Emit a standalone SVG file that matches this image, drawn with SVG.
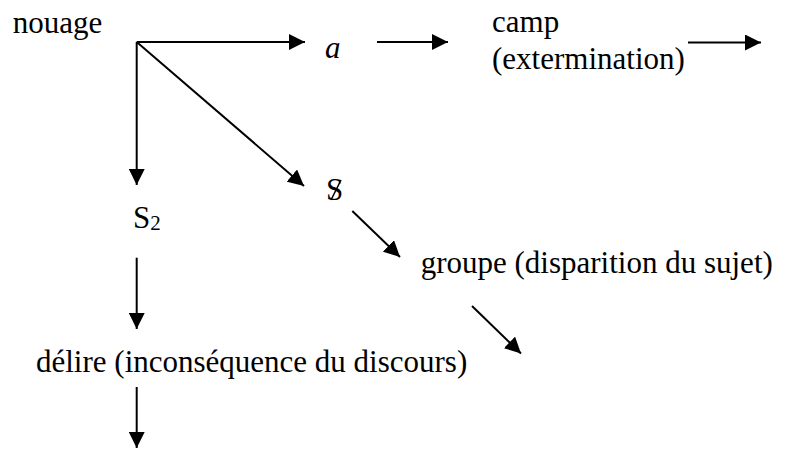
<svg xmlns="http://www.w3.org/2000/svg" width="788" height="449" viewBox="0 0 788 449">
<defs>
<marker id="ah" markerWidth="8" markerHeight="8" refX="8" refY="4" orient="auto" markerUnits="strokeWidth">
<path d="M0,0 L8,4 L0,8 Z" fill="#000"/>
</marker>
</defs>
<rect width="788" height="449" fill="#fff"/>
<g id="connectors" stroke="#000" stroke-width="2" fill="none" marker-end="url(#ah)">
<line x1="136.7" y1="42" x2="305" y2="42"/>
<line x1="136.7" y1="42" x2="136.7" y2="185"/>
<line x1="136.7" y1="42" x2="304" y2="186"/>
<line x1="377" y1="42" x2="448" y2="42"/>
<line x1="688" y1="42.5" x2="761" y2="42.5"/>
<line x1="352.3" y1="211" x2="400" y2="257"/>
<line x1="472" y1="306" x2="521" y2="353.5"/>
<line x1="136.7" y1="257.7" x2="136.7" y2="329"/>
<line x1="136.7" y1="387" x2="136.7" y2="448"/>
</g>
<g id="nouage"><text x="12.7" y="33" font-family="'Liberation Serif', 'Times New Roman', serif" font-size="31">nouage</text></g>
<g id="a"><text x="325" y="58" font-family="'Liberation Serif', 'Times New Roman', serif" font-size="31" font-style="italic">a</text></g>
<g id="camp"><text x="492" y="32" font-family="'Liberation Serif', 'Times New Roman', serif" font-size="31">camp</text><text x="492" y="69" font-family="'Liberation Serif', 'Times New Roman', serif" font-size="31">(extermination)</text></g>
<g id="S-barre"><text x="326" y="200" font-family="'Liberation Serif', 'Times New Roman', serif" font-size="31">S</text><line x1="341" y1="180" x2="331" y2="200" stroke="#000" stroke-width="1.5"/></g>
<g id="S2"><text x="133" y="227.5" font-family="'Liberation Serif', 'Times New Roman', serif" font-size="31">S<tspan font-size="21" dy="2">2</tspan></text></g>
<g id="groupe"><text x="420.7" y="273" font-family="'Liberation Serif', 'Times New Roman', serif" font-size="31">groupe (disparition du sujet)</text></g>
<g id="delire"><text x="36" y="372" font-family="'Liberation Serif', 'Times New Roman', serif" font-size="31">délire (inconséquence du discours)</text></g>
</svg>
